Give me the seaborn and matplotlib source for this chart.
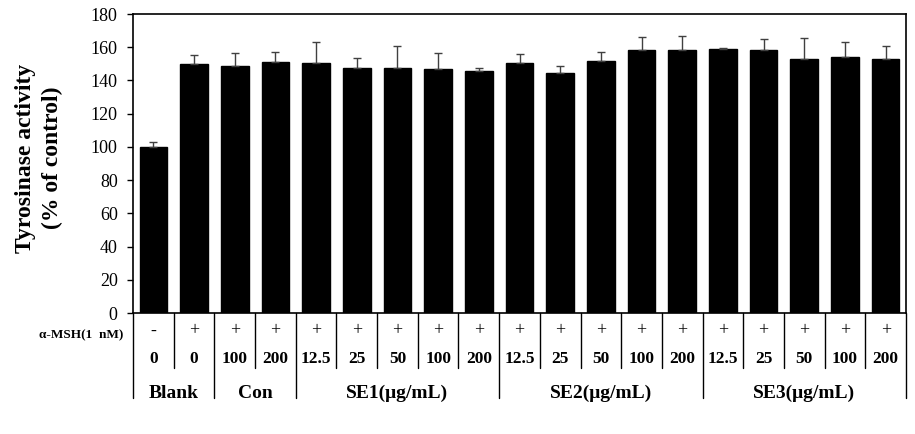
import matplotlib
matplotlib.use("Agg")
import matplotlib.pyplot as plt
import matplotlib.transforms as mtransforms
import seaborn as sns
import pandas as pd
import numpy as np

# ---- data ----
msh = ["-", "+", "+", "+", "+", "+", "+", "+", "+", "+", "+", "+", "+", "+", "+", "+", "+", "+", "+"]
doses = ["0", "0", "100", "200", "12.5", "25", "50", "100", "200",
         "12.5", "25", "50", "100", "200", "12.5", "25", "50", "100", "200"]
groups = ["Blank", "Con", "SE1(μg/mL)", "SE2(μg/mL)", "SE3(μg/mL)"]
group_sizes = [2, 2, 5, 5, 5]
values = [100.0, 150.1, 148.7, 151.1, 150.5, 147.5, 147.5, 146.9, 145.7,
          150.5, 144.5, 151.7, 158.3, 158.3, 159.0, 158.3, 152.9, 154.1, 152.9]
errors = [2.8, 5.2, 7.8, 6.0, 12.5, 5.8, 13.0, 9.4, 2.0,
          5.2, 4.0, 5.3, 7.7, 8.3, 0.5, 6.5, 12.5, 8.9, 7.7]

ids = [f"c{i}" for i in range(len(values))]
df = pd.DataFrame({"cond": ids, "value": values})

sns.set_theme(style="white")
plt.rcParams["font.family"] = ["Liberation Serif", "DejaVu Serif"]

fig = plt.figure(figsize=(9.15, 4.34), dpi=100)
ax = fig.add_axes([133 / 915, 1 - 313 / 434, (906 - 133) / 915, (313 - 14) / 434])

sns.barplot(data=df, x="cond", y="value", order=ids, color="black",
            saturation=1, width=0.68, errorbar=None, ax=ax, edgecolor="black")
xs = np.arange(len(values))
ax.errorbar(xs, values, yerr=[np.zeros(len(errors)), errors], fmt="none",
            ecolor="#404040", elinewidth=1, capsize=2.6, capthick=1)

ax.set_ylim(0, 180)
ax.set_xlim(-0.5, len(values) - 0.5)
ax.set_yticks(np.arange(0, 181, 20))
ax.tick_params(axis="y", which="major", left=True, length=4, width=1, pad=7,
               labelsize=13, colors="black")
ax.set_xticks([])
ax.set_xlabel("")
ax.set_ylabel("")
for s in ax.spines.values():
    s.set_visible(True)
    s.set_color("black")
    s.set_linewidth(1.2)

trans = mtransforms.blended_transform_factory(ax.transData, ax.transAxes)
short_y = -0.184
long_y = -0.284
row1_y = -0.060
row2_y = -0.154
row3_y = -0.268

# group boundaries
bounds = [0]
for g in group_sizes:
    bounds.append(bounds[-1] + g)
group_edges = set(bounds)
for k in range(len(values) + 1):
    xb = k - 0.5
    y_end = long_y if k in group_edges else short_y
    ax.plot([xb, xb], [0, y_end], color="black", lw=1, transform=trans, clip_on=False)

for i in range(len(values)):
    ax.text(i, row1_y, msh[i], transform=trans, ha="center", va="center",
            fontsize=13, color="black")
    ax.text(i, row2_y, doses[i], transform=trans, ha="center", va="center",
            fontsize=12.5, fontweight="bold", color="black")

for gi, g in enumerate(groups):
    cx = (bounds[gi] + bounds[gi + 1] - 1) / 2
    ax.text(cx, row3_y, g, transform=trans, ha="center", va="center",
            fontsize=14, fontweight="bold", color="black")

fig.text(123 / 915, 1 - 335 / 434, "α-MSH(1  nM)", ha="right", va="center",
         fontsize=9.5, fontweight="bold", color="black")

fig.text(39 / 915, 1 - 158 / 434, "Tyrosinase activity\n(% of control)",
         rotation=90, ha="center", va="center", multialignment="center",
         fontsize=17, fontweight="bold", color="black", linespacing=1.4)

fig.savefig("out.png", dpi=100, facecolor="white")
